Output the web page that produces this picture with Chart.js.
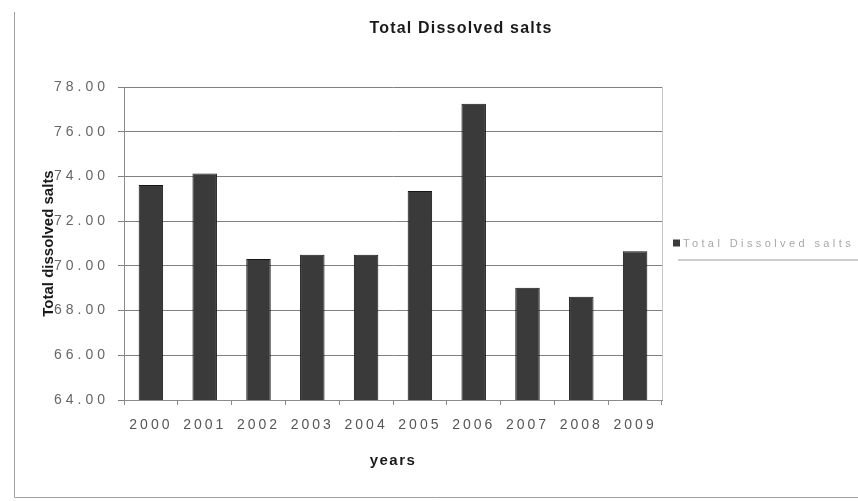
<!DOCTYPE html>
<html>
<head>
<meta charset="utf-8">
<script src="https://cdn.jsdelivr.net/npm/chart.js@4"></script>
<style>
  html, body { margin: 0; padding: 0; background: #ffffff; }
  #wrap { width: 858px; height: 501px; }
</style>
</head>
<body>
<div id="wrap"><canvas id="c" width="858" height="501"></canvas></div>
<script>
// Total dissolved salts per year
const years = ['2000', '2001', '2002', '2003', '2004', '2005', '2006', '2007', '2008', '2009'];
const tdsValues = [73.62, 74.13, 70.31, 70.50, 70.50, 73.35, 77.25, 69.02, 68.62, 70.65];
const seriesName = 'Total Dissolved salts';
const chartTitle = 'Total Dissolved salts';
const yAxisTitle = 'Total dissolved salts';
const xAxisTitle = 'years';
const yMin = 64, yMax = 78, yStep = 2;

const FONT = '"Liberation Sans", Arial, sans-serif';

// Run a drawing step of a scale with widened letter spacing
function spaceOut(scale, method, spacing) {
  const key = '_spaced_' + method;
  if (scale[key]) return;
  const original = scale[method].bind(scale);
  scale[method] = function (...args) {
    const ctx = scale.ctx;
    ctx.save();
    ctx.letterSpacing = spacing;
    original(...args);
    ctx.restore();
  };
  scale[key] = true;
}

// Frame, right plot edge, title and a legend box drawn on the canvas
const decorations = {
  id: 'decorations',
  beforeDraw(chart) {
    const ctx = chart.ctx;
    ctx.save();
    ctx.fillStyle = '#ffffff';
    ctx.fillRect(0, 0, chart.width, chart.height);
    ctx.strokeStyle = '#a0a0a0';
    ctx.lineWidth = 1;
    ctx.beginPath();
    ctx.moveTo(14.5, 12);
    ctx.lineTo(14.5, 497.5);
    ctx.lineTo(chart.width, 497.5);
    ctx.stroke();
    ctx.restore();
  },
  afterDraw(chart) {
    const ctx = chart.ctx;
    const area = chart.chartArea;
    ctx.save();
    // right edge of the plot area
    ctx.strokeStyle = '#c8c8c8';
    ctx.lineWidth = 1;
    ctx.beginPath();
    ctx.moveTo(Math.round(area.right) + 0.5, area.top);
    ctx.lineTo(Math.round(area.right) + 0.5, area.bottom);
    ctx.stroke();

    // title
    ctx.fillStyle = '#1a1a1a';
    ctx.font = 'bold 16px ' + FONT;
    ctx.letterSpacing = '1.2px';
    ctx.textAlign = 'center';
    ctx.textBaseline = 'middle';
    ctx.fillText(chartTitle, 461, 29);

    // legend
    const ds = chart.data.datasets[0];
    const lx = area.right + 11;
    const ly = (area.top + area.bottom) / 2;
    ctx.fillStyle = ds.backgroundColor;
    ctx.fillRect(lx, ly - 4, 7, 7);
    ctx.fillStyle = '#a8a8a8';
    ctx.font = '11px ' + FONT;
    ctx.letterSpacing = '3.4px';
    ctx.textAlign = 'left';
    ctx.fillText(ds.label, lx + 10, ly);
    ctx.strokeStyle = '#9a9a9a';
    ctx.beginPath();
    ctx.moveTo(lx + 5, ly + 16.5);
    ctx.lineTo(chart.width, ly + 16.5);
    ctx.stroke();
    ctx.restore();
  }
};

new Chart(document.getElementById('c'), {
  type: 'bar',
  data: {
    labels: years,
    datasets: [{
      label: seriesName,
      data: tdsValues,
      backgroundColor: '#3a3a3a',
      borderColor: '#151515',
      borderWidth: 1,
      categoryPercentage: 1.0,
      barPercentage: 0.455
    }]
  },
  options: {
    responsive: false,
    animation: false,
    devicePixelRatio: 1,
    layout: { padding: { left: 14, right: 196, top: 87, bottom: 4 } },
    plugins: {
      legend: { display: false },
      title: { display: false },
      tooltip: { enabled: false }
    },
    scales: {
      x: {
        afterFit(scale) {
          scale.height = 97;
          spaceOut(scale, 'drawLabels', '3px');
          spaceOut(scale, 'drawTitle', '1.5px');
        },
        grid: {
          offset: true,
          drawOnChartArea: false,
          color: '#8a8a8a',
          tickLength: 5
        },
        border: { color: '#8a8a8a', width: 1 },
        ticks: {
          color: '#555555',
          font: { family: FONT, size: 14 },
          padding: 12,
          maxRotation: 0,
          autoSkip: false
        },
        title: {
          display: true,
          text: xAxisTitle,
          color: '#1a1a1a',
          font: { family: FONT, size: 15, weight: 'bold' },
          padding: { top: 0, bottom: 27 }
        }
      },
      y: {
        min: yMin,
        max: yMax,
        afterFit(scale) {
          scale.width = 110;
          spaceOut(scale, 'drawLabels', '4px');
        },
        grid: {
          color: '#808080',
          tickLength: 6
        },
        border: { color: '#8a8a8a', width: 1 },
        ticks: {
          stepSize: yStep,
          color: '#666666',
          font: { family: FONT, size: 14 },
          padding: 9,
          callback: (v) => Number(v).toFixed(2)
        },
        title: {
          display: true,
          text: yAxisTitle,
          color: '#1a1a1a',
          font: { family: FONT, size: 15, weight: 'bold' },
          padding: { top: 26, bottom: 0 }
        }
      }
    }
  },
  plugins: [decorations]
});
</script>
</body>
</html>
